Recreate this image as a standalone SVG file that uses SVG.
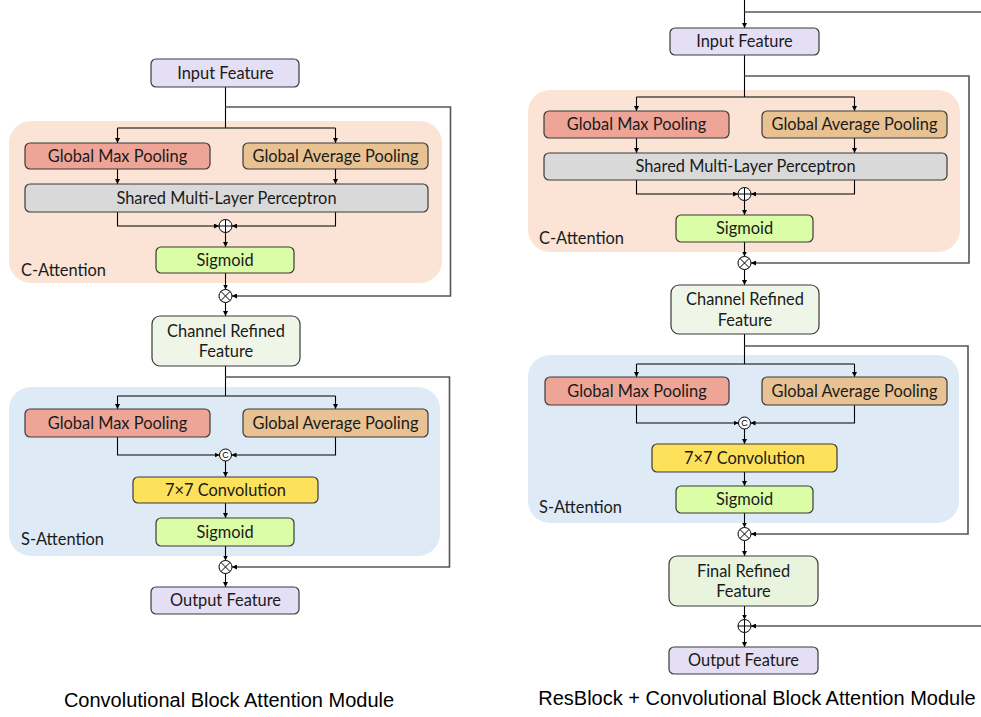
<svg xmlns="http://www.w3.org/2000/svg" width="981" height="717" viewBox="0 0 981 717">
<defs>
<marker id="ah" viewBox="0 0 10 10" refX="10" refY="5" markerWidth="5" markerHeight="5" markerUnits="userSpaceOnUse" orient="auto">
<path d="M0,0 L10,5 L0,10 z" fill="#000"/>
</marker>
<marker id="ahg" viewBox="0 0 10 10" refX="10" refY="5" markerWidth="5" markerHeight="5" markerUnits="userSpaceOnUse" orient="auto">
<path d="M0,0 L10,5 L0,10 z" fill="#000"/>
</marker>
<style>
.node rect{stroke:#3a3a3a;stroke-width:1.2}
.io{fill:#e4dff4}
.gmp{fill:#eea597}
.gap{fill:#e8c293}
.mlp{fill:#d9d9d9}
.sig{fill:#dafda6}
.conv{fill:#fde15a}
.crf{fill:#eff6e8}
.frf{fill:#e8f4de}
.cbg{fill:#fbe4d5}
.sbg{fill:#deeaf6}
text{font-family:Lato,"Open Sans","Liberation Sans",sans-serif;font-size:16.4px;fill:#1a1a1a}
.t{text-anchor:middle}
.cap{font-family:"Liberation Sans",Arial,sans-serif;font-size:20px;fill:#000;text-anchor:middle}
.ln{fill:none;stroke:#000;stroke-width:1.1}
.fb{fill:none;stroke:#555;stroke-width:1.6}
.op circle{fill:#fff;stroke:#000;stroke-width:1}
.op path{stroke:#000;stroke-width:1;fill:none}
.cc{font-family:"Liberation Sans",sans-serif;font-size:9px;text-anchor:middle;fill:#000}
</style>
</defs>
<rect width="981" height="717" fill="#fff"/>

<!-- backgrounds -->
<g id="c-attention-left"><rect class="cbg" x="9" y="121" width="433" height="162" rx="22"/><text x="21" y="276">C-Attention</text></g>
<g id="s-attention-left"><rect class="sbg" x="9" y="387" width="431" height="169" rx="22"/><text x="21" y="545">S-Attention</text></g>
<g id="c-attention-right"><rect class="cbg" x="528" y="90" width="432" height="162" rx="22"/><text x="539" y="244">C-Attention</text></g>
<g id="s-attention-right"><rect class="sbg" x="528" y="355" width="431" height="168" rx="22"/><text x="539" y="513">S-Attention</text></g>

<!-- connectors -->
<g id="connectors">
<!-- left -->
<path class="ln" d="M225.5,87 V107 V128"/>
<path class="ln" d="M117.5,128 H335.5"/>
<path class="ln" d="M117.5,128 V143" marker-end="url(#ah)"/>
<path class="ln" d="M335.5,128 V143" marker-end="url(#ah)"/>
<path class="fb" d="M225.5,107 H450.5 V296 H232" marker-end="url(#ahg)"/>
<path class="ln" d="M117.5,169 V184" marker-end="url(#ah)"/>
<path class="ln" d="M335.5,169 V184" marker-end="url(#ah)"/>
<path class="ln" d="M117.5,212 V226 H219" marker-end="url(#ah)"/>
<path class="ln" d="M335.5,212 V226 H232" marker-end="url(#ah)"/>
<path class="ln" d="M225.5,232.5 V247" marker-end="url(#ah)"/>
<path class="ln" d="M225.5,273 V289.5" marker-end="url(#ah)"/>
<path class="ln" d="M225.5,302.5 V316" marker-end="url(#ah)"/>
<path class="ln" d="M225.5,366 V396"/>
<path class="fb" d="M225.5,377 H449.5 V567 H232" marker-end="url(#ahg)"/>
<path class="ln" d="M117.5,396 H335.5"/>
<path class="ln" d="M117.5,396 V409" marker-end="url(#ah)"/>
<path class="ln" d="M335.5,396 V409" marker-end="url(#ah)"/>
<path class="ln" d="M117.5,437 V455 H219.5" marker-end="url(#ah)"/>
<path class="ln" d="M335.5,437 V455 H231.5" marker-end="url(#ah)"/>
<path class="ln" d="M225.5,461 V477" marker-end="url(#ah)"/>
<path class="ln" d="M225.5,503 V518" marker-end="url(#ah)"/>
<path class="ln" d="M225.5,546 V560.5" marker-end="url(#ah)"/>
<path class="ln" d="M225.5,573.5 V587" marker-end="url(#ah)"/>
<!-- right -->
<path class="ln" d="M744.5,0 V28" marker-end="url(#ah)"/>
<path class="fb" d="M744.5,12 H981"/>
<path class="ln" d="M744.5,55 V97"/>
<path class="fb" d="M744.5,76 H969 V263 H751" marker-end="url(#ahg)"/>
<path class="ln" d="M636.5,97 H854.5"/>
<path class="ln" d="M636.5,97 V111" marker-end="url(#ah)"/>
<path class="ln" d="M854.5,97 V111" marker-end="url(#ah)"/>
<path class="ln" d="M636.5,138 V153" marker-end="url(#ah)"/>
<path class="ln" d="M854.5,138 V153" marker-end="url(#ah)"/>
<path class="ln" d="M636.5,180 V194 H738" marker-end="url(#ah)"/>
<path class="ln" d="M854.5,180 V194 H751" marker-end="url(#ah)"/>
<path class="ln" d="M744.5,200.5 V215" marker-end="url(#ah)"/>
<path class="ln" d="M744.5,242 V256.5" marker-end="url(#ah)"/>
<path class="ln" d="M744.5,269.5 V285" marker-end="url(#ah)"/>
<path class="ln" d="M744.5,334 V364"/>
<path class="fb" d="M744.5,346 H968 V534 H751" marker-end="url(#ahg)"/>
<path class="ln" d="M636.5,364 H854.5"/>
<path class="ln" d="M636.5,364 V377" marker-end="url(#ah)"/>
<path class="ln" d="M854.5,364 V377" marker-end="url(#ah)"/>
<path class="ln" d="M636.5,405 V423 H738.5" marker-end="url(#ah)"/>
<path class="ln" d="M854.5,405 V423 H750.5" marker-end="url(#ah)"/>
<path class="ln" d="M744.5,429 V444" marker-end="url(#ah)"/>
<path class="ln" d="M744.5,472 V486" marker-end="url(#ah)"/>
<path class="ln" d="M744.5,513 V527.5" marker-end="url(#ah)"/>
<path class="ln" d="M744.5,540.5 V556" marker-end="url(#ah)"/>
<path class="ln" d="M744.5,606 V619.5" marker-end="url(#ah)"/>
<path class="fb" d="M981,626 H751" marker-end="url(#ahg)"/>
<path class="ln" d="M744.5,632.5 V647" marker-end="url(#ah)"/>
</g>

<!-- left nodes -->
<g id="l-input" class="node"><rect class="io" x="151" y="59" width="148" height="28" rx="5"/><text class="t" x="225.5" y="78.5">Input Feature</text></g>
<g id="l-gmp1" class="node"><rect class="gmp" x="25" y="143" width="185" height="26" rx="5"/><text class="t" x="117.5" y="161.5">Global Max Pooling</text></g>
<g id="l-gap1" class="node"><rect class="gap" x="243" y="143" width="185" height="26" rx="5"/><text class="t" x="335.5" y="161.5">Global Average Pooling</text></g>
<g id="l-mlp" class="node"><rect class="mlp" x="25" y="184" width="403" height="28" rx="5"/><text class="t" x="226.5" y="203.5">Shared Multi-Layer Perceptron</text></g>
<g id="l-add1" class="op"><circle cx="225.5" cy="226" r="6.5"/><path d="M219,226 H232 M225.5,219.5 V232.5"/></g>
<g id="l-sig1" class="node"><rect class="sig" x="156" y="247" width="138" height="26" rx="5"/><text class="t" x="225" y="265.5">Sigmoid</text></g>
<g id="l-mul1" class="op"><circle cx="225.5" cy="296" r="6.5"/><path d="M220.9,291.4 L230.1,300.6 M230.1,291.4 L220.9,300.6"/></g>
<g id="l-crf" class="node"><rect class="crf" x="152" y="316" width="148" height="50" rx="8"/><text class="t" x="226" y="337">Channel Refined</text><text class="t" x="226" y="357">Feature</text></g>
<g id="l-gmp2" class="node"><rect class="gmp" x="25" y="409" width="185" height="28" rx="5"/><text class="t" x="117.5" y="428.5">Global Max Pooling</text></g>
<g id="l-gap2" class="node"><rect class="gap" x="243" y="409" width="185" height="28" rx="5"/><text class="t" x="335.5" y="428.5">Global Average Pooling</text></g>
<g id="l-cat" class="op"><circle cx="225.5" cy="455" r="6"/><text class="cc" x="225.5" y="458.3">C</text></g>
<g id="l-conv" class="node"><rect class="conv" x="133" y="477" width="185" height="26" rx="5"/><text class="t" x="225.5" y="495.5">7×7 Convolution</text></g>
<g id="l-sig2" class="node"><rect class="sig" x="156" y="518" width="138" height="28" rx="5"/><text class="t" x="225" y="537.5">Sigmoid</text></g>
<g id="l-mul2" class="op"><circle cx="225.5" cy="567" r="6.5"/><path d="M220.9,562.4 L230.1,571.6 M230.1,562.4 L220.9,571.6"/></g>
<g id="l-output" class="node"><rect class="io" x="151" y="587" width="148" height="27" rx="5"/><text class="t" x="225.5" y="606">Output Feature</text></g>

<!-- right nodes -->
<g id="r-input" class="node"><rect class="io" x="670" y="28" width="149" height="27" rx="5"/><text class="t" x="744.5" y="47">Input Feature</text></g>
<g id="r-gmp1" class="node"><rect class="gmp" x="544" y="111" width="185" height="27" rx="5"/><text class="t" x="636.5" y="130">Global Max Pooling</text></g>
<g id="r-gap1" class="node"><rect class="gap" x="762" y="111" width="185" height="27" rx="5"/><text class="t" x="854.5" y="130">Global Average Pooling</text></g>
<g id="r-mlp" class="node"><rect class="mlp" x="544" y="153" width="403" height="27" rx="5"/><text class="t" x="745.5" y="172">Shared Multi-Layer Perceptron</text></g>
<g id="r-add1" class="op"><circle cx="744.5" cy="194" r="6.5"/><path d="M738,194 H751 M744.5,187.5 V200.5"/></g>
<g id="r-sig1" class="node"><rect class="sig" x="676" y="215" width="137" height="27" rx="5"/><text class="t" x="744.5" y="234">Sigmoid</text></g>
<g id="r-mul1" class="op"><circle cx="744.5" cy="263" r="6.5"/><path d="M739.9,258.4 L749.1,267.6 M749.1,258.4 L739.9,267.6"/></g>
<g id="r-crf" class="node"><rect class="crf" x="671" y="285" width="148" height="49" rx="8"/><text class="t" x="745" y="305">Channel Refined</text><text class="t" x="745" y="326">Feature</text></g>
<g id="r-gmp2" class="node"><rect class="gmp" x="545" y="377" width="184" height="28" rx="5"/><text class="t" x="637" y="396.5">Global Max Pooling</text></g>
<g id="r-gap2" class="node"><rect class="gap" x="762" y="377" width="185" height="28" rx="5"/><text class="t" x="854.5" y="396.5">Global Average Pooling</text></g>
<g id="r-cat" class="op"><circle cx="744.5" cy="423" r="6"/><text class="cc" x="744.5" y="426.3">C</text></g>
<g id="r-conv" class="node"><rect class="conv" x="652" y="444" width="185" height="28" rx="5"/><text class="t" x="744.5" y="463.5">7×7 Convolution</text></g>
<g id="r-sig2" class="node"><rect class="sig" x="676" y="486" width="137" height="27" rx="5"/><text class="t" x="744.5" y="505">Sigmoid</text></g>
<g id="r-mul2" class="op"><circle cx="744.5" cy="534" r="6.5"/><path d="M739.9,529.4 L749.1,538.6 M749.1,529.4 L739.9,538.6"/></g>
<g id="r-frf" class="node"><rect class="frf" x="669" y="556" width="149" height="50" rx="8"/><text class="t" x="743.5" y="577">Final Refined</text><text class="t" x="743.5" y="597">Feature</text></g>
<g id="r-add2" class="op"><circle cx="744.5" cy="626" r="6.5"/><path d="M738,626 H751 M744.5,619.5 V632.5"/></g>
<g id="r-output" class="node"><rect class="io" x="669" y="647" width="149" height="27" rx="5"/><text class="t" x="743.5" y="666">Output Feature</text></g>

<!-- captions -->
<text class="cap" x="229" y="707">Convolutional Block Attention Module</text>
<text class="cap" x="757" y="705">ResBlock + Convolutional Block Attention Module</text>
</svg>
